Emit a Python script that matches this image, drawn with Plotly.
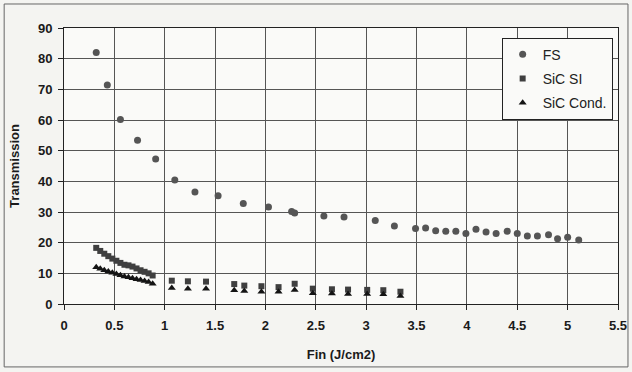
import plotly.graph_objects as go

# FS series
fs_x = [0.32, 0.43, 0.56, 0.73, 0.91, 1.10, 1.30, 1.53, 1.78, 2.03, 2.26, 2.29,
        2.58, 2.78, 3.09, 3.28, 3.49, 3.59, 3.69, 3.79, 3.89, 3.99, 4.09, 4.19,
        4.29, 4.40, 4.50, 4.60, 4.70, 4.81, 4.90, 5.00, 5.11]
fs_y = [82.0, 71.4, 60.2, 53.4, 47.3, 40.4, 36.5, 35.3, 32.8, 31.6, 30.2, 29.7,
        28.7, 28.4, 27.2, 25.4, 24.6, 24.8, 23.9, 23.7, 23.7, 23.0, 24.4, 23.5,
        23.0, 23.7, 23.0, 22.2, 22.2, 22.6, 21.3, 21.8, 20.9]

# SiC SI series
si_x = [0.32, 0.36, 0.40, 0.44, 0.48, 0.52, 0.56, 0.60, 0.64, 0.68, 0.72, 0.76,
        0.80, 0.84, 0.88,
        1.07, 1.23, 1.41, 1.69, 1.79, 1.96, 2.13, 2.29, 2.47, 2.66, 2.82, 3.01,
        3.17, 3.34]
si_y = [18.3, 17.3, 16.4, 15.6, 14.8, 14.1, 13.4, 12.8, 12.6, 12.2, 11.6, 11.0,
        10.5, 10.0, 9.3,
        7.6, 7.4, 7.3, 6.5, 6.0, 5.8, 5.5, 6.6, 5.0, 4.8, 4.7, 4.6, 4.5, 4.0]

# SiC Cond. series
sc_x = [0.32, 0.36, 0.40, 0.44, 0.48, 0.52, 0.56, 0.60, 0.64, 0.68, 0.72, 0.76,
        0.80, 0.84, 0.88,
        1.07, 1.23, 1.41, 1.69, 1.79, 1.96, 2.13, 2.29, 2.47, 2.66, 2.82, 3.01,
        3.17, 3.34]
sc_y = [12.0, 11.5, 11.0, 10.6, 10.2, 9.8, 9.4, 9.0, 8.7, 8.4, 8.1, 7.8,
        7.5, 7.2, 6.6,
        5.2, 5.0, 5.0, 4.5, 4.2, 4.0, 4.0, 4.6, 3.5, 3.4, 3.3, 3.3, 3.2, 2.6]

x_ticks = [0, 0.5, 1, 1.5, 2, 2.5, 3, 3.5, 4, 4.5, 5, 5.5]
y_ticks = [0, 10, 20, 30, 40, 50, 60, 70, 80, 90]

FONT = "Liberation Sans, Arial, sans-serif"

fig = go.Figure()
fig.add_trace(go.Scatter(x=fs_x, y=fs_y, mode="markers", name="FS", legendgroup="a",
                         marker=dict(symbol="circle", size=7, color="#555555")))
fig.add_trace(go.Scatter(x=si_x, y=si_y, mode="markers", name="SiC SI", legendgroup="b",
                         marker=dict(symbol="square", size=6, color="#3f3f3f")))
fig.add_trace(go.Scatter(x=sc_x, y=sc_y, mode="markers", name="SiC Cond.", legendgroup="c",
                         marker=dict(symbol="triangle-up", size=7, color="#141414")))

fig.update_layout(
    width=632, height=372,
    margin=dict(l=64, r=14, t=28, b=68),
    paper_bgcolor="#f4f4f1",
    plot_bgcolor="#fafaf8",
    font=dict(family=FONT, size=13, color="#1a1a1a"),
    showlegend=True,
    legend=dict(x=0.79, y=0.965, xanchor="left", yanchor="top",
                bgcolor="#fafaf8", bordercolor="#222", borderwidth=1,
                font=dict(family=FONT, size=14, color="#222"),
                tracegroupgap=3, itemwidth=30),
    xaxis=dict(range=[0, 5.5], tickvals=x_ticks, ticktext=[str(v) for v in x_ticks],
               automargin=False,
               showgrid=True, gridcolor="#555", gridwidth=1,
               showline=True, linecolor="#222", linewidth=1, mirror=True,
               ticks="outside", ticklen=5, tickcolor="#222",
               ticklabelstandoff=4,
               zeroline=False,
               tickfont=dict(family=FONT, size=13, color="#1a1a1a", weight="bold"),
               title=dict(text="<b>Fin (J/cm2)</b>", standoff=18,
                          font=dict(family=FONT, size=13, color="#1a1a1a"))),
    yaxis=dict(range=[0, 90], tickvals=y_ticks,
               automargin=False,
               showgrid=True, gridcolor="#555", gridwidth=1,
               showline=True, linecolor="#222", linewidth=1, mirror=True,
               ticks="outside", ticklen=5, tickcolor="#222",
               ticklabelstandoff=3,
               zeroline=False,
               tickfont=dict(family=FONT, size=13, color="#1a1a1a", weight="bold"),
               title=dict(text="<b>Transmission</b>", standoff=15,
                          font=dict(family=FONT, size=13, color="#1a1a1a"))),
    shapes=[dict(type="rect", xref="paper", yref="paper",
                 x0=-0.108, x1=1.018, y0=-0.228, y1=1.087,
                 line=dict(color="#666", width=1), fillcolor="rgba(0,0,0,0)",
                 layer="below")],
)

fig.write_html("out.html")
